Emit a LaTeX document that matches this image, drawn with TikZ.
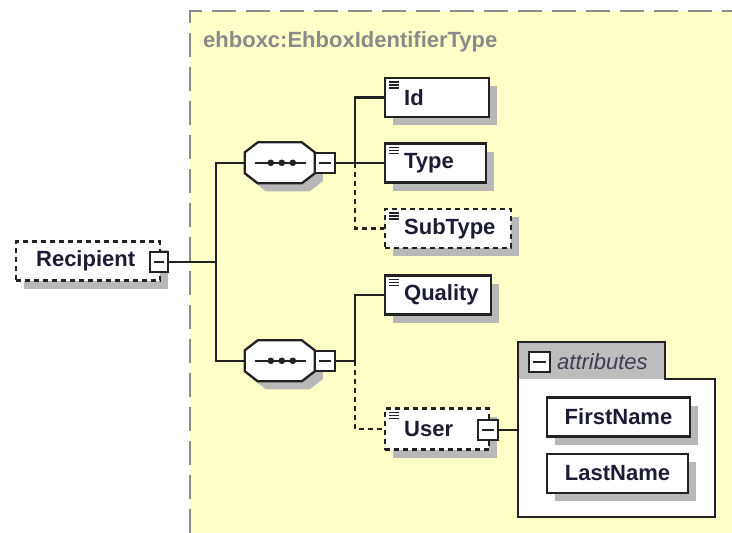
\documentclass[tikz,border=0pt]{standalone}
\usepackage{fontspec}
\setmainfont{Liberation Sans}
\usetikzlibrary{shadows,calc}
\definecolor{bgyellow}{HTML}{FFFFC8}
\definecolor{shadowgray}{HTML}{B8B8B8}
\definecolor{linecol}{HTML}{222222}
\definecolor{labelgray}{HTML}{8A8A8A}
\definecolor{framegray}{HTML}{8C8C8C}
\definecolor{textcol}{HTML}{1C1C34}
\definecolor{tabgray}{HTML}{BDBDBD}
\newcommand\elemfont{\bfseries\fontsize{22}{25}\selectfont}
\newcommand\drawseqshape[1]{%
  \fill[shadowgray, shift={(#1.north west)}, xshift=8pt, yshift=-8pt]
    (13,0)--(57,0)--(70,10)--(70,31)--(57,41)--(13,41)--(0,31)--(0,10)--cycle;
  \draw[boxline, fill=white, shift={(#1.north west)}]
    (13,0)--(57,0)--(70,10)--(70,31)--(57,41)--(13,41)--(0,31)--(0,10)--cycle;
  \draw[conn, shift={(#1.north west)}] (10,20.5) -- (61,20.5);
  \foreach \dx in {26,37,48} \fill[linecol, shift={(#1.north west)}] (\dx,20.5) circle (3.3pt);
}
\tikzset{
  boxline/.style={draw=linecol, line width=2.3pt},
  conn/.style={draw=linecol, line width=2.3pt},
  optconn/.style={conn, dash pattern=on 5pt off 4pt},
  sh/.style={drop shadow={shadow xshift=8pt, shadow yshift=-8pt, fill=shadowgray, opacity=1}},
  elem/.style={boxline, fill=white, sh, minimum height=39pt, text width=#1, align=left,
    inner xsep=0pt, inner ysep=0pt, font=\elemfont, text=textcol, anchor=west},
  optelem/.style={elem=#1, dash pattern=on 5pt off 4pt},
  attrelem/.style={boxline, fill=white, sh, minimum height=39pt, minimum width=#1,
    inner sep=0pt, font=\elemfont, text=textcol},
  icon/.style={path picture={\foreach \dy in {4,7,10}
      \draw[linecol, line width=1.1pt, solid] ([xshift=4pt,yshift=-\dy pt]path picture bounding box.north west) -- ++(10,0);}},
  seqbox/.style={minimum width=70pt, minimum height=41pt, inner sep=0pt},
  minusbox/.style={draw=linecol, line width=2pt, fill=white, solid, minimum width=#1, minimum height=20pt, inner sep=0pt,
    path picture={\draw[linecol, line width=2pt] ([xshift=4pt]path picture bounding box.west) -- ([xshift=-4pt]path picture bounding box.east);}},
  minusbox/.default=19pt,
}
\begin{document}
\begin{tikzpicture}[x=1pt,y=-1pt]
\useasboundingbox (0,0) rectangle (732,533);
% background of the type
\fill[bgyellow] (190,11) rectangle (732,533);
\draw[framegray, line width=2.2pt, dash pattern=on 24pt off 10pt] (190,533) -- (190,11) -- (732,11);
\node[anchor=base west, font=\bfseries\fontsize{22}{25}\selectfont, text=labelgray, inner sep=0pt] (typelabel) at (203,47) {ehboxc:EhboxIdentifierType};

% Recipient
\node[optelem=144pt] (rec) at (15,261) {\hspace*{20pt}Recipient};
\node[minusbox=18pt] (recm) at (159,262) {};
\coordinate (j0) at (216,262);

% sequence 1
\node[seqbox] (seq1) at (280,163) {};
\drawseqshape{seq1}
\node[minusbox=20pt] (seq1m) at (325,163) {};
\coordinate (j1) at (355,163);

% sequence 2
\node[seqbox] (seq2) at (280,361) {};
\drawseqshape{seq2}
\node[minusbox=20pt] (seq2m) at (325,361) {};
\coordinate (j2) at (355,361);

% elements
\node[elem=104pt, icon] (id) at (384,97.5) {\hspace*{19pt}Id};
\node[elem=101pt, icon] (type) at (384,163) {\hspace*{19pt}Type};
\node[optelem=126pt, icon] (subtype) at (384,228.5) {\hspace*{19pt}SubType};
\node[elem=106pt, icon] (quality) at (384,295) {\hspace*{19pt}Quality};
\node[optelem=104pt, icon, minimum height=41pt] (user) at (384,429) {\hspace*{19pt}User};
\node[minusbox=20pt] (userm) at (488,430) {};

% attributes
\node[minimum width=197pt, minimum height=175pt, inner sep=0pt, anchor=north west] (attr) at (518,342) {};
\fill[tabgray, shift={(attr.north west)}] (0,0) rectangle (147,37);
\fill[white, shift={(attr.north west)}] (0,37) rectangle (197,175);
\draw[boxline, shift={(attr.north west)}] (0,0) -- (147,0) -- (147,37) -- (197,37) -- (197,175) -- (0,175) -- cycle;
\node[minusbox=21pt] (attrm) at (539.5,362) {};
\node[anchor=west, inner sep=0pt, font=\itshape\fontsize{22}{25}\selectfont, text=textcol!85!white] (attrlabel) at (557,362) {attributes};
\node[attrelem=143pt] (first) at (618.5,417) {FirstName};
\node[attrelem=141pt] (last) at (617.5,473.5) {LastName};

% connectors
\draw[conn] (recm.east) -- (j0);
\draw[conn] (j0) |- (seq1.west);
\draw[conn] (j0) |- (seq2.west);
\draw[conn] (seq1m.east) -- (j1);
\draw[conn] (j1) |- (id.west);
\draw[conn] (j1) -- (type.west);
\draw[optconn] (j1) |- (subtype.west);
\draw[conn] (seq2m.east) -- (j2);
\draw[conn] (j2) |- (quality.west);
\draw[optconn] (j2) |- (user.west);
\draw[conn] (userm.east) -- (userm.east -| attr.west);
\end{tikzpicture}
\end{document}
